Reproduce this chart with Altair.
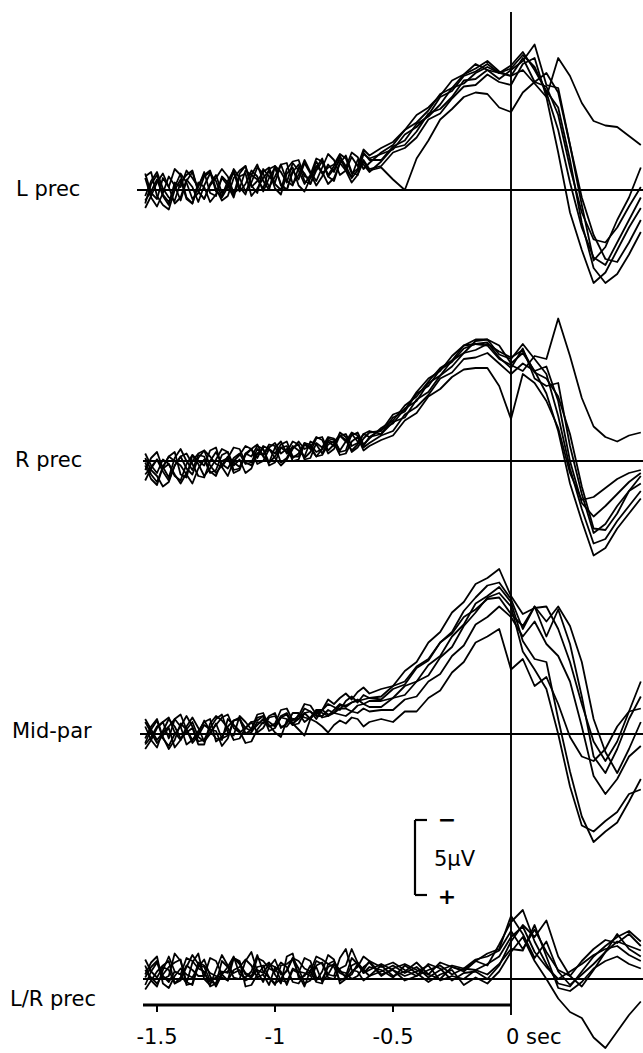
import altair as alt
import pandas as pd

# ---------------- data (µV, negative = up) ----------------
T_PRE = [round(-1.55 + 0.025 * i, 3) for i in range(39)]    # -1.55 .. -0.60 s
T_POST = [round(-0.55 + 0.05 * k, 2) for k in range(23)]    # -0.55 .. 0.55 s

PANELS = ["L prec", "R prec", "Mid-par", "L/R prec"]

L_PREC_PRE = [
    [0.9, -0.4, -1.0, 0.3, 0.8, -0.2, -1.1, -0.5, 0.6, 0.2,
     -0.9, -1.2, 0.1, 0.4, -0.6, -1.3, -0.2, 0.3, -1.0, -0.7,
     -0.1, -1.4, -1.6, -0.3, 0.0, -1.2, -1.7, -0.6, -0.4, -1.5,
     -2.1, -0.9, -0.6, -1.8, -2.3, -1.2, -1.0, -2.4, -2.1],
    [-0.8, 0.5, 1.1, 0.2, -0.9, -0.3, 0.7, -0.6, -1.2, 0.1,
     0.6, -0.4, -1.0, 0.2, -0.3, -1.4, -0.8, 0.1, -0.5, -1.5,
     -1.1, -0.2, -0.9, -1.7, -0.6, -0.3, -1.5, -1.1, -0.4, -1.3,
     -1.9, -1.0, -1.6, -2.3, -1.3, -0.9, -2.0, -1.7, -1.2],
    [1.2, 0.4, -0.5, -1.1, -0.2, 0.9, 0.5, -0.7, -0.2, 0.8,
     -0.3, -1.1, -0.6, 0.5, -0.2, -1.2, 0.1, -0.4, -1.3, -0.9,
     0.1, -0.8, -1.5, -0.4, 0.0, -1.3, -0.7, -1.8, -1.1, -0.3,
     -0.9, -1.7, -1.2, -2.2, -1.6, -0.8, -1.3, -2.0, -1.4],
    [-0.9, -1.2, 0.4, 1.0, 1.3, 0.0, -0.7, 0.6, 0.9, -0.5,
     -0.2, 0.8, 0.3, -0.8, -0.3, 0.5, -0.9, -1.1, 0.4, -0.1,
     -0.8, -1.3, -0.1, 0.3, -1.1, -1.5, -0.3, 0.1, -0.8, -1.6,
     -1.2, -0.4, -0.8, -1.8, -1.3, -0.5, -1.0, -1.9, -1.3],
    [0.4, -0.6, -1.2, -0.1, 0.5, 0.7, -0.5, -1.0, -1.3, 0.1,
     0.6, -0.3, -0.8, -1.4, -0.9, 0.2, -0.1, -1.3, -1.0, -1.7,
     -0.6, 0.0, -1.6, -1.2, -0.5, -1.8, -1.3, -0.4, -1.0, -2.1,
     -1.9, -0.9, -1.4, -2.0, -1.5, -2.5, -2.2, -1.4, -1.8],
    [-1.1, 0.2, 0.6, -0.8, -0.2, -1.4, -1.0, 0.5, 0.9, -0.3,
     -1.0, -1.3, -0.1, 0.7, 0.4, -0.8, -1.3, -1.6, -0.3, 0.2,
     -1.4, -0.9, -0.5, -1.7, -1.8, -0.4, -1.0, -2.0, -1.2, -0.6,
     -1.5, -2.4, -2.0, -1.0, -1.3, -2.2, -1.6, -2.7, -2.3],
    [0.7, 0.1, -0.7, 0.4, 1.0, -0.5, -0.2, -1.3, -0.8, -0.2,
     -1.2, 0.2, 0.4, -0.9, -0.5, 0.3, -1.1, -1.6, -0.2, -0.6,
     -1.2, -1.5, -0.4, 0.0, -1.4, -1.9, -2.0, -0.9, -0.8, -1.9,
     -1.1, -1.5, -1.7, -2.4, -2.1, -1.1, -1.4, -2.5, -2.0],
]
L_PREC_POST = [
    [-2.4, -2.7, -3.7, -4.2, -5.0, -6.2, -6.6, -7.6, -7.9, -8.4, -7.8, -8.1, -9.0, -8.2, -6.5, -4.0, -0.5, 2.5, 4.5, 5.0, 3.5, 2.0, 0.5],
    [-1.9, -2.8, -3.0, -3.9, -5.1, -5.4, -6.2, -7.3, -7.4, -8.0, -7.4, -8.0, -8.6, -9.7, -7.0, -6.8, -3.0, 1.0, 4.7, 3.8, 2.0, 0.5, -1.5],
    [-1.6, -2.5, -2.8, -3.5, -4.7, -5.1, -6.1, -6.9, -7.0, -7.7, -7.2, -7.0, -8.4, -8.8, -6.2, -2.5, 1.5, 4.0, 6.2, 5.5, 4.0, 2.5, 1.2],
    [-1.5, -0.7, 0.0, -2.1, -3.3, -4.7, -5.4, -6.2, -6.5, -6.4, -5.5, -5.2, -6.5, -7.2, -7.8, -6.5, -3.0, 0.5, 3.0, 4.6, 4.8, 3.5, 2.0],
    [-2.5, -3.0, -4.0, -4.5, -5.3, -6.4, -6.8, -7.7, -8.1, -8.6, -7.9, -7.6, -8.8, -7.2, -6.9, -5.0, -1.5, 1.5, 3.3, 3.5, 2.5, 1.1, -0.2],
    [-2.8, -3.2, -4.0, -5.0, -5.5, -6.3, -7.3, -7.7, -8.4, -8.0, -7.8, -7.6, -8.0, -7.1, -6.2, -8.8, -7.6, -5.8, -4.6, -4.3, -4.2, -3.6, -3.0],
    [-2.0, -2.9, -3.3, -4.4, -4.9, -5.7, -6.8, -7.1, -7.8, -8.2, -7.8, -8.3, -9.2, -8.0, -6.6, -5.5, -2.0, 2.2, 5.2, 6.2, 5.6, 4.3, 2.8],
]

R_PREC_PRE = [
    [0.3, 1.2, 1.6, 0.4, -0.3, -0.6, 0.9, 1.1, -0.4, 0.2,
     1.0, 0.5, -0.1, -0.8, -0.6, 0.6, 0.5, -0.5, -0.3, -1.0,
     -0.8, 0.3, 0.1, -0.9, -0.6, -1.3, -1.1, -0.1, -0.2, -1.2,
     -0.9, -1.6, -1.5, -0.6, -0.7, -1.8, -1.3, -1.0, -1.6],
    [1.3, 0.5, -0.1, 0.4, 1.1, -0.2, -0.8, 0.0, 0.6, -0.4,
     -0.3, 0.7, 1.0, 0.0, -0.2, -0.9, -0.8, 0.1, 0.3, -0.5,
     -0.4, -1.1, -1.0, 0.1, -0.2, -1.0, -0.7, -0.3, -1.3, -1.1,
     -0.5, -1.3, -1.0, -1.9, -1.6, -0.6, -0.9, -1.5, -1.9],
    [-0.2, 0.6, 1.0, 1.7, 1.4, 0.3, -0.3, 0.5, 0.9, -0.2,
     -0.7, -0.3, 0.2, 0.4, 1.0, 0.0, -0.4, -1.0, -0.8, 0.2,
     0.0, -0.8, -0.5, -1.1, -1.3, -0.3, -0.3, -1.2, -0.9, -1.6,
     -1.4, -0.5, -0.8, -1.7, -1.3, -1.9, -1.7, -0.9, -1.2],
    [0.6, -0.2, -0.6, 0.5, 0.2, 1.0, 1.3, 0.2, -0.4, 0.0,
     0.3, -0.7, -0.9, 0.4, -0.2, 0.8, 0.6, -0.4, -0.8, -1.1,
     -0.3, 0.1, -0.9, -1.3, -0.5, -0.9, -1.1, -0.2, -0.6, -1.5,
     -1.6, -0.7, -1.1, -1.7, -1.4, -0.7, -1.1, -1.8, -2.0],
    [0.1, 0.9, 1.4, 0.4, -0.3, 0.0, 0.3, 0.9, 1.5, 0.5,
     -0.1, 0.8, 0.6, -0.4, -0.6, 0.3, -0.1, 0.8, 0.5, -0.5,
     -0.8, 0.1, -0.3, -0.9, -1.0, 0.0, -0.1, -1.1, -0.8, -0.3,
     -0.8, -1.4, -1.2, -0.4, -0.5, -1.3, -1.6, -0.7, -1.0],
    [0.9, 0.4, -0.1, 0.7, 1.3, 0.3, -0.3, -0.5, 0.2, 1.0,
     1.1, 0.0, -0.6, 0.2, 0.5, -0.2, -0.5, 0.2, 0.1, -0.8,
     -0.4, -0.9, -1.2, -0.5, -0.8, -0.2, -0.5, -1.2, -1.1, -0.6,
     -0.8, -1.5, -1.4, -0.7, -1.3, -1.7, -1.9, -1.1, -1.5],
    [-0.5, 0.3, 0.8, -0.1, 0.2, 0.9, 1.5, 0.8, 0.0, -0.5,
     -0.7, 0.3, 0.8, 0.3, -0.3, 0.1, 0.4, -0.5, -0.8, -0.2,
     -1.0, -0.8, -0.2, 0.3, -0.1, -0.8, -1.3, -0.8, -1.0, -0.3,
     -0.4, -1.1, -1.3, -1.7, -1.8, -1.0, -1.2, -1.8, -1.6],
]
R_PREC_POST = [
    [-2.1, -2.5, -3.5, -4.0, -5.2, -5.7, -6.7, -7.2, -8.0, -8.1, -7.7, -6.5, -7.2, -6.0, -4.5, -2.0, 1.5, 4.0, 6.3, 5.8, 4.5, 3.5, 2.5],
    [-2.0, -3.1, -3.4, -4.6, -5.5, -6.0, -7.0, -7.7, -7.8, -7.9, -6.9, -6.2, -7.5, -5.5, -5.0, -5.2, -1.0, 2.2, 4.8, 4.2, 3.0, 2.0, 1.0],
    [-1.7, -2.0, -3.1, -3.6, -4.4, -5.5, -5.9, -6.8, -6.9, -7.2, -6.5, -5.8, -6.5, -6.0, -6.3, -4.0, 0.0, 2.8, 3.7, 3.0, 2.2, 1.4, 0.8],
    [-1.8, -2.9, -3.3, -4.5, -5.0, -6.1, -6.6, -7.5, -7.8, -7.7, -6.8, -6.4, -6.0, -7.0, -6.8, -9.5, -7.0, -4.2, -2.3, -1.6, -1.3, -1.7, -1.9],
    [-1.4, -1.7, -2.7, -3.2, -4.3, -4.8, -5.6, -6.1, -6.2, -6.2, -5.0, -2.8, -5.8, -5.2, -4.0, -2.2, 0.8, 2.6, 2.4, 1.8, 1.2, 0.8, 0.6],
    [-2.2, -2.7, -3.7, -4.3, -5.3, -6.2, -6.7, -7.7, -8.1, -8.1, -7.1, -6.8, -7.8, -6.8, -5.8, -3.0, 0.5, 3.2, 5.5, 5.2, 4.0, 3.0, 2.0],
    [-1.8, -2.6, -2.9, -4.1, -4.6, -5.7, -6.3, -7.2, -7.4, -7.8, -7.3, -6.9, -7.4, -5.9, -5.5, -4.3, -1.8, 1.7, 4.5, 4.6, 3.5, 2.0, 1.5],
]

MID_PAR_PRE = [
    [0.6, -0.3, -0.9, 0.3, 0.8, 0.0, -0.5, -1.2, -0.5, 0.5,
     0.4, -0.4, -1.0, -1.3, -0.1, 0.1, -1.2, -0.8, -0.3, -1.3,
     -1.4, -0.5, -0.7, -1.6, -1.7, -0.9, -1.2, -2.0, -1.9, -1.3,
     -1.6, -2.3, -2.0, -2.4, -2.7, -2.3, -2.8, -3.1, -2.7],
    [-0.8, -0.1, 0.6, 0.1, -0.4, 0.9, 0.4, -0.5, -1.1, -0.4,
     0.5, 0.0, -0.7, 0.3, 0.1, -0.9, -1.0, 0.0, -0.3, -1.1,
     -1.2, -0.5, -0.6, -1.2, -1.4, -0.7, -1.0, -1.7, -1.5, -1.0,
     -1.6, -2.0, -1.8, -1.6, -2.2, -2.5, -2.1, -2.6, -2.4],
    [1.0, 0.4, -0.4, -0.8, 0.3, -1.0, -0.5, 0.7, 0.4, -0.2,
     -0.8, -1.0, 0.5, 0.2, -0.5, -0.9, -1.1, 0.0, -0.1, -0.8,
     -0.7, -1.2, -1.4, -0.4, -0.7, -1.4, -1.4, -0.8, -1.1, -1.6,
     -1.4, -1.2, -1.6, -2.0, -1.8, -2.1, -2.3, -2.0, -2.2],
    [-0.5, 0.4, 0.9, -0.2, -1.0, -0.5, 0.3, -0.1, -0.4, 0.7,
     0.7, -0.7, -1.2, -0.9, -0.4, 0.4, 0.3, -0.4, -0.8, -0.9,
     -1.2, -0.2, -0.4, -1.1, -1.0, -0.6, -1.3, -1.1, -1.0, -1.5,
     -1.1, -1.2, -1.4, -1.7, -1.7, -1.5, -1.9, -2.0, -1.8],
    [0.3, -0.5, -1.0, 0.2, 1.0, 0.4, -0.7, -0.3, 0.4, 0.0,
     -0.9, -0.2, 0.3, 0.4, -1.0, -0.6, -0.2, 0.6, 0.5, -0.3,
     -0.8, -0.6, -0.1, 0.2, -0.9, -0.7, -0.3, 0.1, -1.0, -0.8,
     -0.5, -0.1, -0.6, -0.9, -0.7, -1.1, -1.0, -0.5, -0.8],
    [-1.0, -0.3, 0.4, -0.1, -0.5, -1.0, -1.3, -0.3, 0.6, 0.1,
     -0.6, -0.3, -0.2, 0.8, 0.3, -0.9, -1.0, -0.4, -0.2, -0.6,
     -1.0, -0.8, -0.5, -1.1, -1.3, -0.6, -0.7, -1.4, -1.0, -1.6,
     -1.6, -1.3, -1.4, -1.9, -1.9, -2.1, -2.2, -2.3, -2.4],
    [0.7, 0.2, -0.5, -0.8, -1.1, -0.1, 0.4, -0.3, -0.8, 0.2,
     0.5, -0.1, -0.6, -1.1, -1.3, -0.4, -0.1, -0.4, -0.8, -0.1,
     -0.4, -1.1, -1.2, -0.5, -0.5, -1.0, -1.0, -1.4, -1.5, -1.2,
     -1.2, -1.6, -1.4, -1.3, -1.2, -1.5, -1.4, -1.7, -1.5],
]
MID_PAR_POST = [
    [-3.0, -3.2, -4.2, -4.8, -6.1, -6.8, -8.1, -8.8, -10.0, -10.4, -11.0, -9.2, -8.0, -8.4, -8.5, -7.0, -4.8, -2.0, 0.5, 1.8, 0.5, -1.5, -3.5],
    [-2.3, -3.0, -3.3, -4.4, -4.9, -6.1, -6.8, -8.2, -9.1, -9.9, -10.1, -9.0, -7.0, -8.5, -6.5, -8.3, -6.0, -2.5, 1.5, 2.6, 1.0, -1.0, -2.5],
    [-2.2, -2.4, -3.2, -3.5, -4.6, -5.2, -6.5, -7.3, -8.7, -9.2, -9.8, -8.8, -6.2, -5.0, -4.8, -1.0, 2.5, 5.5, 7.2, 6.5, 5.9, 4.5, 3.0],
    [-1.8, -2.4, -2.6, -3.5, -3.9, -5.1, -5.8, -7.2, -8.1, -9.1, -9.4, -8.5, -5.5, -4.3, -3.0, 0.0, 3.5, 6.1, 6.5, 5.8, 5.2, 4.0, 3.7],
    [-1.0, -0.8, -1.5, -1.5, -2.4, -2.9, -4.1, -4.8, -6.1, -6.5, -7.0, -4.3, -5.0, -3.2, -3.8, -2.0, 0.2, 1.5, 1.8, 1.0, -0.5, -1.5, -1.7],
    [-2.5, -3.2, -3.5, -4.5, -5.0, -6.1, -6.7, -7.8, -8.3, -9.0, -9.1, -8.0, -7.2, -8.5, -7.5, -8.5, -7.2, -4.8, -1.0, 1.2, 2.6, 1.0, -0.8],
    [-1.6, -1.6, -2.3, -2.5, -3.5, -4.0, -5.2, -5.9, -7.3, -7.8, -8.5, -7.8, -6.5, -7.5, -6.0, -5.2, -3.5, -0.5, 2.8, 4.0, 3.0, 1.5, 0.8],
]

LR_PREC_PRE = [
    [-0.9, 0.1, 0.5, -0.6, -1.5, -0.5, -0.3, 0.3, -1.1, -1.7,
     0.0, 0.4, -0.6, -1.6, -0.9, -0.1, 0.0, -1.2, -1.8, -0.5,
     0.2, -0.8, -1.3, -0.3, -0.5, -1.4, -0.7, 0.3, 0.1, -0.9,
     -1.1, -0.3, -0.2, -1.4, -2.0, -0.6, -0.5, 0.1, -0.2],
    [0.4, -0.5, -1.1, 0.0, -0.2, -1.7, -1.2, 0.2, 0.4, -0.9,
     -0.8, 0.1, -0.1, -0.5, -0.4, -1.4, -1.2, 0.5, 0.4, -0.3,
     -0.8, -1.1, -0.3, 0.3, -1.5, -1.7, -0.1, -0.2, -0.9, 0.1,
     -0.5, -1.6, -1.3, 0.3, 0.0, -0.5, -0.8, -1.5, -1.2],
    [-0.3, -1.1, -1.5, 0.3, 0.6, -0.2, -0.7, -0.3, -0.1, -0.8,
     -1.3, -0.2, 0.5, -0.3, -0.8, -1.5, -0.3, -0.1, -0.5, -1.6,
     -0.5, -0.1, 0.4, -0.9, -1.0, -1.3, -0.3, 0.5, -0.6, -0.8,
     0.2, -0.3, -1.0, -0.6, -0.1, -0.3, -1.0, -0.4, -0.8],
    [0.7, 0.1, -0.5, -0.9, -1.2, 0.3, -0.1, -0.9, -0.6, -0.2,
     -0.2, -1.4, -1.2, -0.3, 0.1, -0.6, -0.8, -1.3, -0.9, -0.1,
     -0.3, 0.4, -0.8, -0.5, 0.4, -0.6, -0.4, -1.4, -1.2, -0.1,
     0.0, -0.8, -1.0, -0.4, -0.2, -1.4, -1.0, -0.6, -0.2],
    [-1.3, -0.5, -0.1, -0.8, -0.6, 0.3, 0.1, -0.8, -1.6, -1.0,
     -0.4, 0.2, 0.3, -1.2, -0.8, -0.4, -0.6, 0.1, -0.1, -1.4,
     -1.2, -0.7, -0.5, -1.1, -0.8, 0.2, 0.3, -0.3, -0.5, -1.5,
     -1.3, -1.0, -0.8, 0.1, -0.1, -0.9, -1.1, -0.4, -0.6],
    [-0.1, -0.8, -1.2, -0.2, 0.2, -0.5, -0.3, -1.4, -1.2, -0.7,
     -0.5, 0.5, 0.3, -0.4, -0.5, -1.4, -1.0, -0.4, -0.2, -0.8,
     -0.9, -0.1, 0.3, 0.0, -0.6, -1.4, -1.2, -0.7, -0.5, 0.2,
     0.3, -1.0, -1.2, -0.5, -0.4, 0.0, -0.2, -0.8, -1.1],
    [-0.6, -0.1, 0.3, -0.3, -0.8, -1.1, -1.3, 0.4, 0.3, -1.1,
     -0.9, -0.4, -0.2, -0.1, 0.1, -1.4, -1.1, -0.3, -0.1, -0.6,
     -0.4, -1.0, -0.8, 0.1, 0.2, -0.7, -0.5, -0.4, -0.2, -1.2,
     -1.0, -0.1, 0.0, -0.7, -0.9, -2.0, -1.1, -0.6, -1.2],
]
LR_PREC_POST = [
    [-0.9, -0.2, -0.5, -1.1, -0.3, 0.0, -0.8, -0.6, -1.2, -0.9, -2.3, -3.8, -4.6, -2.5, -1.0, 0.3, 0.5, -0.5, -1.5, -2.2, -2.8, -3.2, -2.5],
    [-0.3, -0.6, 0.1, -0.2, -1.0, -0.7, 0.1, -0.4, -0.5, 0.0, -0.9, -2.5, -3.6, -2.8, -3.9, -1.5, -0.2, 0.5, -0.6, -1.8, -2.5, -2.2, -1.9],
    [-0.6, -0.1, -0.9, -0.4, 0.2, -0.3, -0.6, 0.4, -0.1, 0.3, -0.5, -1.8, -2.8, -1.2, 0.0, 1.3, 2.2, 2.6, 3.9, 4.6, 3.5, 2.4, 1.5],
    [-0.5, -0.9, -0.4, -0.8, -0.1, -0.6, -0.9, -0.7, -1.3, -1.5, -1.9, -3.2, -2.0, -3.3, -1.8, -0.6, -0.2, -1.2, -2.0, -2.6, -2.4, -3.0, -2.2],
    [-1.0, -0.6, -0.2, -0.5, -0.9, 0.1, -0.2, 0.0, -0.6, -0.3, -1.0, -2.0, -1.9, -3.6, -1.5, 0.6, 0.8, 0.2, -0.7, -1.2, -1.5, -1.0, -0.7],
    [-0.2, -0.7, -1.0, -0.6, -0.3, -1.1, -0.8, -0.5, -1.2, -1.7, -2.0, -4.2, -3.0, -1.4, -2.5, -0.5, 0.4, -0.3, -1.0, -1.8, -3.0, -2.0, -1.5],
    [-0.8, -1.1, -0.6, -0.2, -0.6, -0.9, -0.3, -0.7, -0.6, -1.0, -1.5, -2.8, -3.5, -1.8, -0.8, 0.0, -0.5, -1.0, -1.6, -2.0, -2.2, -1.6, -1.2],
]

TICK_VALUES = [-1.5, -1.0, -0.5]
TICK_LABELS = ["-1.5", "-1", "-0.5"]
ZERO_LABEL = "0 sec"
SCALE_UV = 5

# ---------------- layout (pixels; 15 px per µV) ----------------
W, H = 643, 1053
PX_PER_UV = 15.0
X0_PX = 511.0          # pixel of t = 0
PX_PER_S = 236.0
BASE_PX = [190, 461, 734, 979]
AXIS_PX = 1005

def py(px):
    return px / PX_PER_UV

def tx(px):
    return (px - X0_PX) / PX_PER_S

xs = alt.Scale(domain=[tx(0), tx(W)], nice=False, zero=False)
ys = alt.Scale(domain=[0, H / PX_PER_UV], reverse=True, nice=False, zero=False)

rows = []
groups = [(L_PREC_PRE, L_PREC_POST), (R_PREC_PRE, R_PREC_POST),
          (MID_PAR_PRE, MID_PAR_POST), (LR_PREC_PRE, LR_PREC_POST)]
for p, (name, (pre, post)) in enumerate(zip(PANELS, groups)):
    off = py(BASE_PX[p])
    for i, (a, b) in enumerate(zip(pre, post)):
        times = T_PRE[:len(a)] + T_POST[:len(b)]
        vals = list(a[:len(T_PRE)]) + list(b[:len(T_POST)])
        for t, v in zip(times, vals):
            rows.append({"panel": name, "trace": f"{name}-{i}", "t": t, "uv": v, "y": off + v})
df = pd.DataFrame(rows)

X = lambda f: alt.X(f, scale=xs, axis=None)
Y = lambda f: alt.Y(f, scale=ys, axis=None)

lines = alt.Chart(df).mark_line(color="black", strokeWidth=1.8, clip=True, strokeJoin="round").encode(
    x=X("t:Q"), y=Y("y:Q"), detail="trace:N", order="t:Q"
)

base_df = pd.DataFrame({"x1": [tx(137), tx(143), tx(140), tx(143)], "x2": [tx(W)] * 4,
                        "y": [py(b) for b in BASE_PX]})
baselines = alt.Chart(base_df).mark_rule(color="black", strokeWidth=1.9).encode(
    x=X("x1:Q"), x2="x2:Q", y=Y("y:Q"))

vline = alt.Chart(pd.DataFrame({"x": [0.0], "y1": [py(12)], "y2": [py(1015)]})).mark_rule(
    color="black", strokeWidth=1.9).encode(x=X("x:Q"), y=Y("y1:Q"), y2="y2:Q")

axis_line = alt.Chart(pd.DataFrame({"x1": [tx(143)], "x2": [0.0], "y": [py(AXIS_PX)]})).mark_rule(
    color="black", strokeWidth=3).encode(x=X("x1:Q"), x2="x2:Q", y=Y("y:Q"))

ticks = alt.Chart(pd.DataFrame({"x": TICK_VALUES, "y1": [py(AXIS_PX)] * 3, "y2": [py(AXIS_PX + 7)] * 3})).mark_rule(
    color="black", strokeWidth=2).encode(x=X("x:Q"), y=Y("y1:Q"), y2="y2:Q")

FONT = "DejaVu Sans"
tick_text = alt.Chart(pd.DataFrame({"x": TICK_VALUES, "label": TICK_LABELS, "y": [py(1038)] * 3})).mark_text(
    font=FONT, fontSize=21, align="center", baseline="middle", color="black").encode(
    x=X("x:Q"), y=Y("y:Q"), text="label:N")

zero_text = alt.Chart(pd.DataFrame({"x": [0.0], "label": [ZERO_LABEL], "y": [py(1038)]})).mark_text(
    font=FONT, fontSize=21, align="left", baseline="middle", dx=-5, color="black").encode(
    x=X("x:Q"), y=Y("y:Q"), text="label:N")

label_df = pd.DataFrame({"label": PANELS, "x": [tx(16), tx(15), tx(12), tx(10)],
                         "y": [py(190), py(461), py(732), py(1000)]})
labels = alt.Chart(label_df).mark_text(font=FONT, fontSize=21, align="left", baseline="middle",
                                       color="black").encode(x=X("x:Q"), y=Y("y:Q"), text="label:N")

# scale bar: 5 µV bracket (negative up)
btop = py(820)
bbot = btop + SCALE_UV
bracket = alt.Chart(pd.DataFrame({
    "x1": [tx(415), tx(415), tx(415)], "x2": [tx(415), tx(427), tx(427)],
    "y1": [btop, btop, bbot], "y2": [bbot, btop, bbot]
})).mark_rule(color="black", strokeWidth=2.2).encode(x=X("x1:Q"), x2="x2:Q", y=Y("y1:Q"), y2="y2:Q")

sb_5 = alt.Chart(pd.DataFrame({"x": [tx(434)], "y": [py(860)], "label": [f"{SCALE_UV}\u00b5V"]})).mark_text(
    font=FONT, fontSize=21, align="left", baseline="middle", color="black").encode(
    x=X("x:Q"), y=Y("y:Q"), text="label:N")

sb_signs = alt.Chart(pd.DataFrame({
    "x": [tx(447), tx(447)],
    "y": [btop, bbot + 0.1],
    "label": ["\u2212", "+"],
})).mark_text(font=FONT, fontSize=22, fontWeight="bold", align="center", baseline="middle", color="black").encode(
    x=X("x:Q"), y=Y("y:Q"), text="label:N")

chart = alt.layer(
    baselines, vline, axis_line, ticks, lines, labels, tick_text, zero_text, bracket, sb_5, sb_signs
).properties(
    width=W, height=H, padding=0, autosize=alt.AutoSizeParams(type="none"), background="white"
).configure_view(stroke=None)

chart.save("out.html", embed_options={"renderer": "svg", "actions": False})
